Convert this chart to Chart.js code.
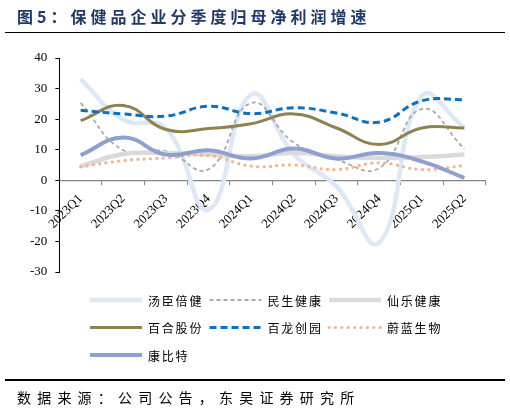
<!DOCTYPE html>
<html lang="zh">

<head>
    <meta charset="UTF-8">
    <title>保健品企业分季度归母净利润增速</title>
    <script src="https://cdn.jsdelivr.net/npm/chart.js"></script>
    <style>
        body { margin: 0; background: #fff; }
        #page { position: relative; width: 510px; height: 413px; overflow: hidden; }
        #title {
            position: absolute; left: 17px; top: 4px;
            font: bold 16px "Noto Sans CJK SC", sans-serif; letter-spacing: 4px;
            color: #1f3a6a; white-space: nowrap;
        }
        #topRule { position: absolute; left: 5px; right: 5px; top: 32px; height: 0; border-top: 1.5px solid #000; }
        #bottomRule { position: absolute; left: 5px; right: 5px; top: 379px; height: 0; border-top: 2px solid #000; }
        #source {
            position: absolute; left: 17px; top: 387px;
            font: 14px "Noto Sans CJK SC", sans-serif; letter-spacing: 6.2px;
            color: #000; white-space: nowrap;
        }
        #chartBox { position: absolute; left: 0; top: 0; width: 510px; height: 413px; }
    </style>
</head>

<body>
    <div id="page">
        <div id="chartBox"><canvas id="growthChart"></canvas></div>
        <div id="title">图5：保健品企业分季度归母净利润增速</div>
        <div id="topRule"></div>
        <div id="bottomRule"></div>
        <div id="source">数据来源：公司公告，东吴证券研究所</div>
    </div>

    <script>
        // quarters on the x axis
        const quarters = ['2023Q1', '2023Q2', '2023Q3', '2023Q4', '2024Q1', '2024Q2', '2024Q3', '2024Q4', '2025Q1', '2025Q2'];

        // net profit growth, %
        const tangchen = [33.1, 19.8, 17.0, -9.6, 28.0, 8.5, -2.0, -20.4, 27.5, 17.2];
        const minsheng = [25.3, 9.8, 9.5, 3.6, 25.3, 12.3, 6.8, 4.0, 23.3, 10.3];
        const xianle = [4.6, 8.6, 8.9, 8.4, 7.9, 9.0, 7.9, 7.3, 7.6, 8.4];
        const baihe = [19.5, 24.5, 16.6, 16.9, 18.5, 21.7, 17.1, 11.7, 17.1, 17.1];
        const bailong = [22.9, 21.7, 21.0, 24.2, 21.8, 23.7, 22.0, 19.0, 26.0, 26.4];
        const weilan = [4.4, 6.4, 7.3, 8.1, 4.6, 5.0, 3.5, 5.7, 3.5, 4.8];
        const kangbite = [8.2, 14.0, 8.4, 9.8, 7.1, 10.4, 7.1, 8.9, 6.2, 0.8];

        const yTicks = [40, 30, 20, 10, 0, -10, -20, -30];

        const series = [
            { label: '汤臣倍健', data: tangchen, borderColor: '#dce8f6', borderWidth: 4.5 },
            { label: '民生健康', data: minsheng, borderColor: '#a9a9a9', borderWidth: 1.8, borderDash: [4, 3] },
            { label: '仙乐健康', data: xianle, borderColor: '#dadada', borderWidth: 4.5 },
            { label: '百合股份', data: baihe, borderColor: '#8e8250', borderWidth: 3 },
            { label: '百龙创园', data: bailong, borderColor: '#0a70c2', borderWidth: 3, borderDash: [7, 4] },
            { label: '蔚蓝生物', data: weilan, borderColor: '#f6b48c', borderWidth: 3.2, borderDash: [0.1, 6.3], borderCapStyle: 'round' },
            { label: '康比特', data: kangbite, borderColor: '#8da0d0', borderWidth: 4 }
        ];

        const tickFont = { family: 'Liberation Serif, Times New Roman, serif', size: 13 };

        // legend drawn as a 3-column grid under the plot
        const gridLegend = {
            id: 'gridLegend',
            afterDraw(chart) {
                const ctx = chart.ctx;
                ctx.save();
                chart.data.datasets.forEach((ds, i) => {
                    const x = 90 + (i % 3) * 119.5;
                    const y = 300 + Math.floor(i / 3) * 27.5;
                    ctx.beginPath();
                    ctx.strokeStyle = ds.borderColor;
                    ctx.lineWidth = ds.borderWidth;
                    ctx.lineCap = ds.borderCapStyle || 'butt';
                    ctx.setLineDash(ds.borderDash || []);
                    ctx.moveTo(x, y);
                    ctx.lineTo(x + 52, y);
                    ctx.stroke();
                    ctx.setLineDash([]);
                    ctx.fillStyle = '#000';
                    ctx.font = '12px "Noto Sans CJK SC", sans-serif';
                    ctx.letterSpacing = '1.8px';
                    ctx.textBaseline = 'middle';
                    ctx.fillText(ds.label, x + 58, y + 1);
                });
                ctx.restore();
            }
        };

        new Chart(document.getElementById('growthChart'), {
            type: 'line',
            data: {
                labels: quarters,
                datasets: series.map((s, i) => ({
                    ...s,
                    fill: false,
                    pointRadius: 0,
                    tension: 0.45,
                    order: series.length - i
                }))
            },
            options: {
                responsive: true,
                maintainAspectRatio: false,
                animation: false,
                layout: { padding: { top: 58, left: 0, right: 24.3, bottom: 141 } },
                plugins: { legend: { display: false }, tooltip: { enabled: false } },
                scales: {
                    x: {
                        position: { y: 0 },
                        offset: true,
                        border: { color: '#858585', width: 1.2 },
                        grid: { offset: true, drawOnChartArea: false, tickLength: 4, color: '#858585' },
                        ticks: {
                            minRotation: 45, maxRotation: 45, padding: 7,
                            color: '#000',
                            font: tickFont
                        }
                    },
                    y: {
                        min: -30, max: 40,
                        border: { color: '#000', width: 1 },
                        grid: { drawOnChartArea: false, tickLength: 4, color: '#000' },
                        afterFit: (scale) => { scale.width = 59.3; },
                        afterBuildTicks: (scale) => { scale.ticks = yTicks.map(v => ({ value: v })); },
                        ticks: {
                            padding: 8,
                            color: '#000',
                            font: tickFont
                        }
                    }
                }
            },
            plugins: [gridLegend]
        });
    </script>
</body>

</html>
